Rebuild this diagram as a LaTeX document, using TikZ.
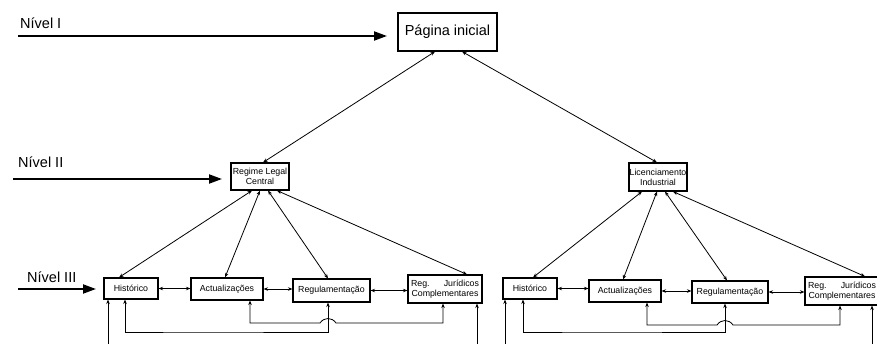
\documentclass[tikz,border=0pt]{standalone}
\usepackage{fontspec}
\setmainfont{Liberation Sans}
\usetikzlibrary{arrows.meta,calc}
\begin{document}
\begin{tikzpicture}[x=1pt,y=-1pt,
  box/.style={draw,line width=1.1pt,inner sep=0pt,font=\fontsize{8.8}{10}\selectfont,align=center},
  lvl/.style={font=\fontsize{14.5}{16}\selectfont,anchor=west,inner sep=0pt},
  big/.style={line width=2pt,-{Triangle[length=13pt,width=9pt]}},
  dbl/.style={line width=0.8pt,{Stealth[length=4.5pt,width=3.5pt]}-{Stealth[length=4.5pt,width=3.5pt]}},
  sgl/.style={line width=0.8pt,-{Stealth[length=4.5pt,width=3.5pt]}}]
\useasboundingbox (0,0) rectangle (877,343);
\clip (0,0) rectangle (877,343);
\fill[white] (0,0) rectangle (877,343);

% level labels and arrows
\node[lvl] (n1) at (20,23) {Nível I};
\node[lvl] (n2) at (18,162) {Nível II};
\node[lvl] (n3) at (27,277) {Nível III};
\coordinate (a1s) at (18,36);  \coordinate (a1e) at (387,36);
\coordinate (a2s) at (13,179); \coordinate (a2e) at (222,179);
\coordinate (a3s) at (18,289); \coordinate (a3e) at (96,289);
\draw[big] (a1s) -- (a1e);
\draw[big] (a2s) -- (a2e);
\draw[big] (a3s) -- (a3e);

% level I and II
\node[box,minimum width=99pt,minimum height=38pt,font=\fontsize{14.5}{16}\selectfont] (pag) at (447.5,32) {Página inicial};
\node[box,minimum width=58pt,minimum height=27pt] (reg) at (260,176.5) {Regime Legal\\Central};
\node[box,minimum width=58pt,minimum height=28pt] (lic) at (658,177) {Licenciamento\\Industrial};

% level III left
\node[box,minimum width=54pt,minimum height=21pt] (lh) at (131,288.5) {Histórico};
\node[box,minimum width=72pt,minimum height=22pt] (la) at (227,289) {Actualizações};
\node[box,minimum width=77pt,minimum height=23pt] (lr) at (331.5,290.5) {Regulamentação};
\node[box,minimum width=74pt,minimum height=28pt] (lj) at (445,289) {\makebox[68pt][s]{Reg.\hfill Jurídicos}\\Complementares};

% level III right
\node[box,minimum width=54pt,minimum height=21pt] (rh) at (530,288.5) {Histórico};
\node[box,minimum width=72pt,minimum height=22pt] (ra) at (625,291) {Actualizações};
\node[box,minimum width=76pt,minimum height=22pt] (rr) at (730,292) {Regulamentação};
\node[box,minimum width=74pt,minimum height=28pt] (rj) at (842,291) {\makebox[68pt][s]{Reg.\hfill Jurídicos}\\Complementares};

% top connectors
\draw[dbl] ([xshift=-12.5pt]pag.south) -- ([xshift=3pt]reg.north);
\draw[dbl] ([xshift=14.5pt]pag.south) -- ([xshift=-1pt]lic.north);

% regime to level III
\draw[dbl] ([xshift=-8pt]reg.south) -- ([xshift=-12pt]lh.north);
\draw[dbl] ([xshift=0pt]reg.south) -- ([xshift=-2pt]la.north);
\draw[dbl] ([xshift=8pt]reg.south) -- ([xshift=-3.5pt]lr.north);
\draw[dbl] ([xshift=17pt]reg.south) -- ([xshift=22pt]lj.north);

% licenciamento to level III
\draw[dbl] ([xshift=-16pt]lic.south) -- ([xshift=3pt]rh.north);
\draw[dbl] ([xshift=-1pt]lic.south) -- ([xshift=-2pt]ra.north);
\draw[dbl] ([xshift=7pt]lic.south) -- ([xshift=-3pt]rr.north);
\draw[dbl] ([xshift=15pt]lic.south) -- ([xshift=23pt]rj.north);

% horizontal links
\draw[dbl] (lh.east) -- (lh.east -| la.west);
\draw[dbl] (la.east) -- (la.east -| lr.west);
\draw[dbl] (lr.east) -- (lr.east -| lj.west);
\draw[dbl] (rh.east) -- (rh.east -| ra.west);
\draw[dbl] (ra.east) -- (ra.east -| rr.west);
\draw[dbl] (rr.east) -- (rr.east -| rj.west);

% bottom links left
\coordinate (lf1) at (108,346);
\coordinate (lf2) at (477,346);
\draw[sgl] (lf1) -- (lf1 |- lh.south);
\draw[sgl] (lf2) -- (lf2 |- lj.south);
\draw[dbl] ([xshift=-6pt]lh.south) |- (200,332) -| ([xshift=-3.5pt]lr.south);
\draw[dbl] ([xshift=23pt]la.south) |- (320,323)
  .. controls (324,317) and (332,317) .. (336,323) -| ([xshift=-2pt]lj.south);

% bottom links right
\coordinate (rf1) at (505,346);
\coordinate (rf2) at (872,346);
\draw[sgl] (rf1) -- (rf1 |- rh.south);
\draw[sgl] (rf2) -- (rf2 |- rj.south);
\draw[dbl] ([xshift=-7pt]rh.south) |- (600,332) -| ([xshift=-5pt]rr.south);
\draw[dbl] ([xshift=22pt]ra.south) |- (717,325)
  .. controls (721,319) and (729,319) .. (733,325) -| ([xshift=-2pt]rj.south);
\end{tikzpicture}
\end{document}
